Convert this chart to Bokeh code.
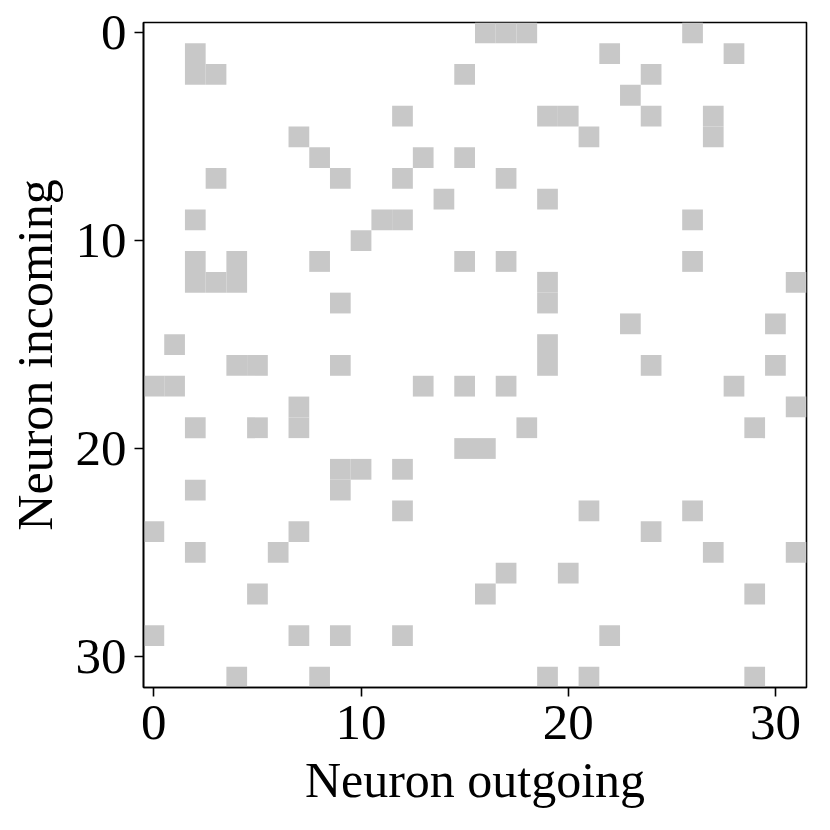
from bokeh.plotting import figure
from bokeh.models import Range1d, FixedTicker, ColumnDataSource
from bokeh.embed import file_html
from bokeh.resources import INLINE

# Nonzero connections: row (incoming neuron) -> list of columns (outgoing neuron)
connections = {
    0: [16, 17, 18, 26],
    1: [2, 22, 28],
    2: [2, 3, 15, 24],
    3: [23],
    4: [12, 19, 20, 24, 27],
    5: [7, 21, 27],
    6: [8, 13, 15],
    7: [3, 9, 12, 17],
    8: [14, 19],
    9: [2, 11, 12, 26],
    10: [10],
    11: [2, 4, 8, 15, 17, 26],
    12: [2, 3, 4, 19, 31],
    13: [9, 19],
    14: [23, 30],
    15: [1, 19],
    16: [4, 5, 9, 19, 24, 30],
    17: [0, 1, 13, 15, 17, 28],
    18: [7, 31],
    19: [2, 5, 7, 18, 29],
    20: [15, 16],
    21: [9, 10, 12],
    22: [2, 9],
    23: [12, 21, 26],
    24: [0, 7, 24],
    25: [2, 6, 27, 31],
    26: [17, 20],
    27: [5, 16, 29],
    28: [],
    29: [0, 7, 9, 12, 22],
    30: [],
    31: [4, 8, 19, 21, 29],
}
n_neurons = 32
tick_values = [0, 10, 20, 30]
x_label = "Neuron outgoing"
y_label = "Neuron incoming"

xs, ys = [], []
for r, cols in connections.items():
    for c in cols:
        xs.append(c)
        ys.append(r)
source = ColumnDataSource(data=dict(x=xs, y=ys))

p = figure(
    width=824, height=824,
    x_range=Range1d(-0.5, n_neurons - 0.5),
    y_range=Range1d(n_neurons - 0.5, -0.5),
    output_backend="svg", toolbar_location=None,
    min_border_left=143, min_border_right=18,
    min_border_top=22, min_border_bottom=137,
)
p.rect(x="x", y="y", width=1, height=1, source=source,
       fill_color="#c8c8c8", line_color=None)

p.xgrid.visible = False
p.ygrid.visible = False
p.outline_line_color = "black"
p.outline_line_width = 1.6
p.outline_line_alpha = 1.0

font = "Liberation Serif"
for ax in (p.xaxis[0], p.yaxis[0]):
    ax.ticker = FixedTicker(ticks=tick_values)
    ax.minor_tick_line_color = None
    ax.major_tick_in = 0
    ax.major_tick_out = 9
    ax.major_tick_line_width = 1.6
    ax.axis_line_width = 1.6
    ax.axis_line_color = "black"
    ax.major_tick_line_color = "black"
    ax.major_label_text_font = font
    ax.major_label_text_font_size = "51px"
    ax.major_label_text_color = "black"
    ax.axis_label_text_font = font
    ax.axis_label_text_font_size = "50px"
    ax.axis_label_text_font_style = "normal"
    ax.axis_label_text_color = "black"

p.xaxis.axis_label = x_label
p.yaxis.axis_label = y_label
p.xaxis.major_label_standoff = 9
p.yaxis.major_label_standoff = 8
p.xaxis.axis_label_standoff = 10
p.yaxis.axis_label_standoff = 10

open("out.html", "w").write(file_html(p, INLINE))
